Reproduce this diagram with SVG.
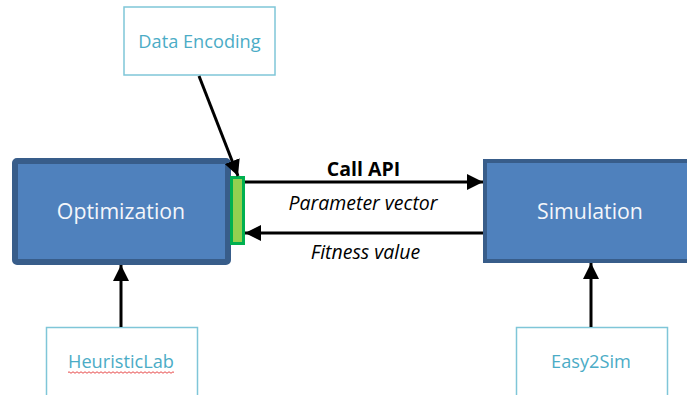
<svg xmlns="http://www.w3.org/2000/svg" width="687" height="395" viewBox="0 0 687 395">
<style>
.main{fill:#4f81bd;stroke:#385d8a}
.aux{fill:#ffffff;stroke:#7fc6d8;stroke-width:1.5}
.mt{font-family:"Open Sans","Liberation Sans",sans-serif;font-size:21.3px;fill:#f4f6fa;text-anchor:middle}
.at{font-family:"Open Sans","Liberation Sans",sans-serif;font-size:18.2px;fill:#4bacc6;text-anchor:middle}
.lb{font-family:"Open Sans","Liberation Sans",sans-serif;font-size:19.5px;fill:#000;text-anchor:middle}
.c{stroke:#000;stroke-width:3;fill:none}
</style>
<defs>
<marker id="ah" viewBox="0 0 16 16" refX="16" refY="8" markerWidth="16" markerHeight="16" markerUnits="userSpaceOnUse" orient="auto">
<path d="M0,0 L16,8 L0,16 Z" fill="#000"/>
</marker>
</defs>
<g id="data-encoding">
<rect class="aux" x="124" y="7" width="151" height="68"/>
<text class="at" x="199.5" y="48">Data Encoding</text>
</g>
<g id="optimization">
<rect class="main" x="15" y="161" width="213" height="101" rx="2" stroke-width="6"/>
<text class="mt" x="121" y="219">Optimization</text>
</g>
<g id="api-port">
<rect x="231.5" y="177.5" width="12" height="66" fill="#92d050" stroke="#00b050" stroke-width="3"/>
</g>
<g id="simulation">
<rect class="main" x="485" y="161" width="210" height="100" stroke-width="4"/>
<text class="mt" x="590" y="219">Simulation</text>
</g>
<g id="heuristiclab">
<rect class="aux" x="46.5" y="327.5" width="151" height="80"/>
<text class="at" x="121" y="368">HeuristicLab</text>
<path d="M68,372.5 q1,-1.5 2,0 t2,0 t2,0 t2,0 t2,0 t2,0 t2,0 t2,0 t2,0 t2,0 t2,0 t2,0 t2,0 t2,0 t2,0 t2,0 t2,0 t2,0 t2,0 t2,0 t2,0 t2,0 t2,0 t2,0 t2,0 t2,0 t2,0 t2,0 t2,0 t2,0 t2,0 t2,0 t2,0 t2,0 t2,0 t2,0 t2,0 t2,0 t2,0 t2,0 t2,0 t2,0 t2,0 t2,0 t2,0 t2,0 t2,0 t2,0 t2,0 t2,0 t2,0 t2,0 t2,0" fill="none" stroke="#e84c4c" stroke-width="1"/>
</g>
<g id="easy2sim">
<rect class="aux" x="516.5" y="327.5" width="151" height="80"/>
<text class="at" x="591" y="368">Easy2Sim</text>
</g>
<g id="connectors">
<line class="c" x1="199" y1="76" x2="238" y2="176" marker-end="url(#ah)"/>
<line class="c" x1="245" y1="182" x2="483" y2="182" marker-end="url(#ah)"/>
<line class="c" x1="483" y1="233" x2="245" y2="233" marker-end="url(#ah)"/>
<line class="c" x1="121" y1="327" x2="121" y2="265" marker-end="url(#ah)"/>
<line class="c" x1="591" y1="327" x2="591" y2="263" marker-end="url(#ah)"/>
<text class="lb" x="363.5" y="176" font-weight="bold" font-size="17.5px">Call API</text>
<text class="lb" x="363" y="210" font-style="italic">Parameter vector</text>
<text class="lb" x="365.5" y="259" font-style="italic">Fitness value</text>
</g>
</svg>
